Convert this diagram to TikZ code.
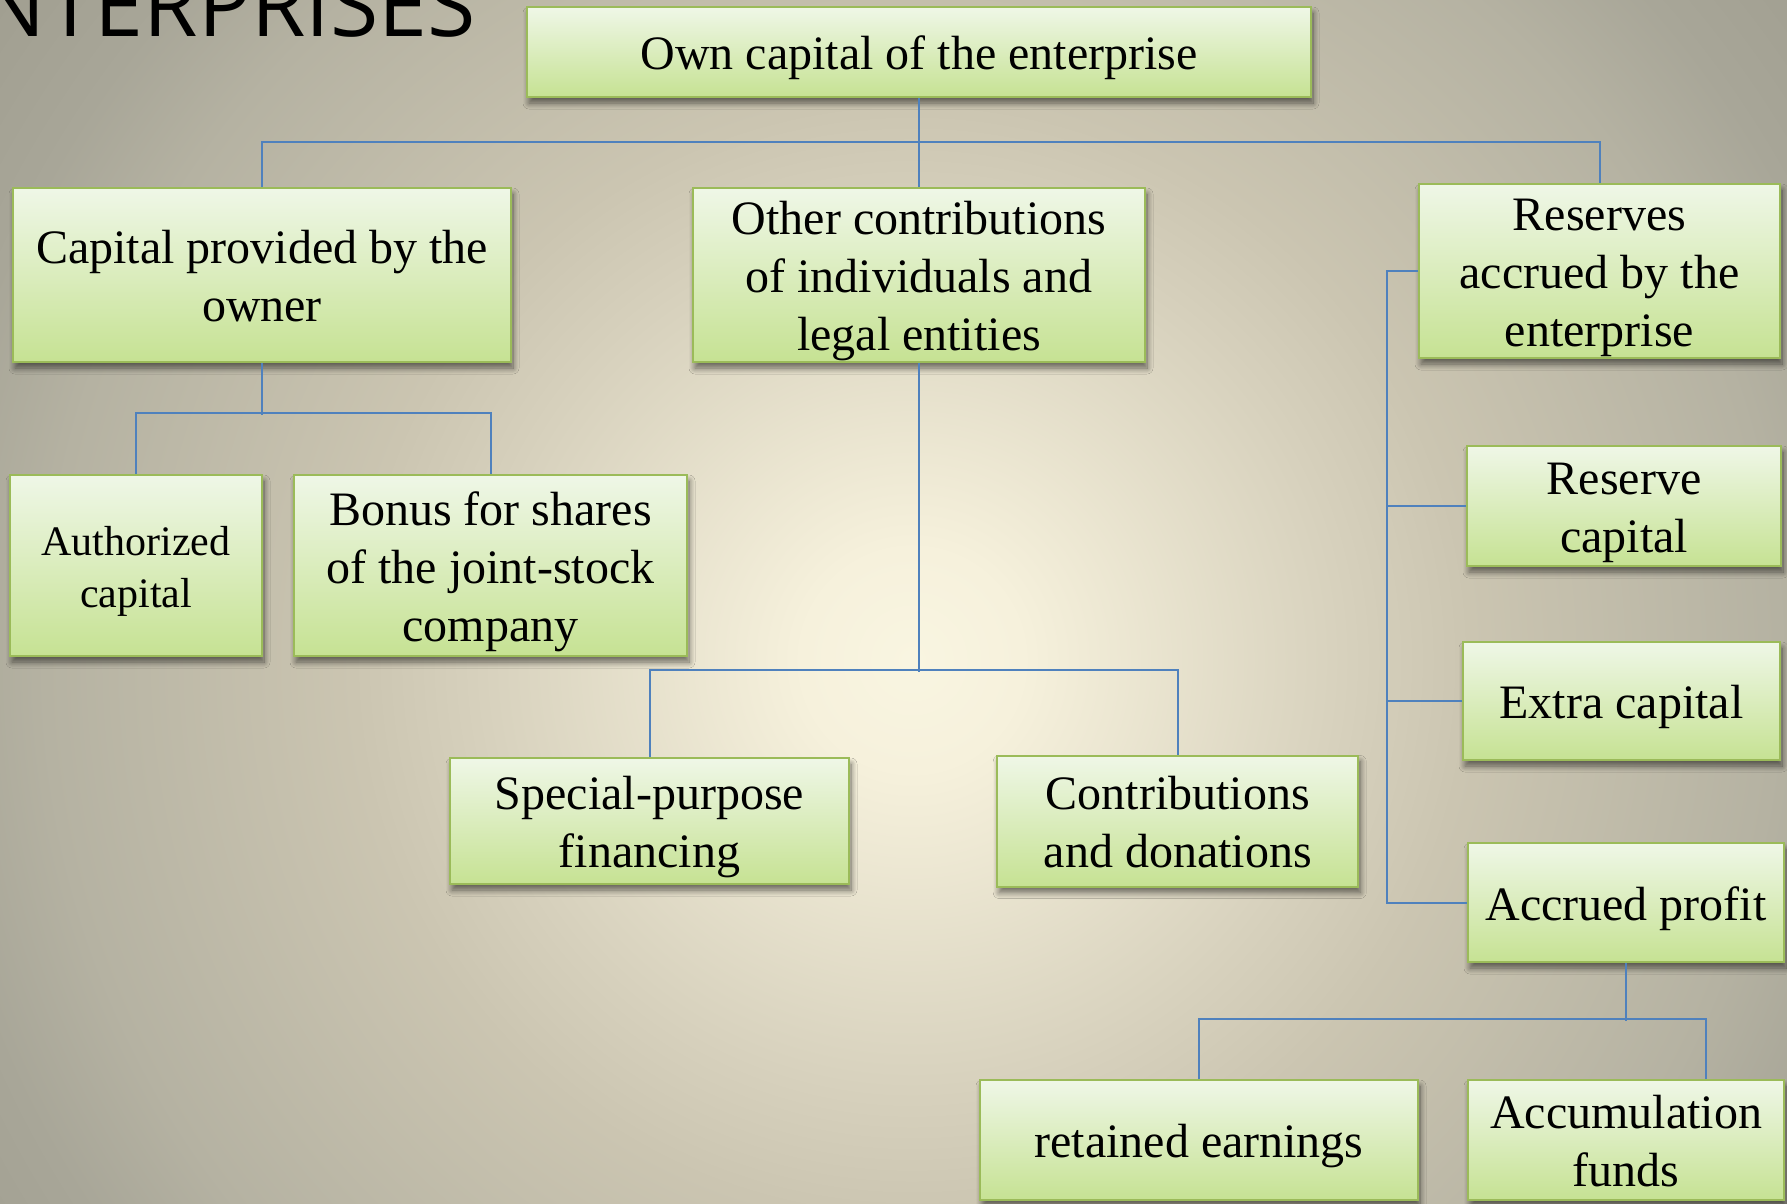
\documentclass[tikz,border=0pt]{standalone}
\usepackage{fontspec}
\setmainfont{Liberation Serif}
\newfontfamily\titlefont{Open Sans}
\usetikzlibrary{shadows,shadows.blur}
\definecolor{bgA}{HTML}{F9F5E1}
\definecolor{bgB}{HTML}{F6F1DC}
\definecolor{bgC}{HTML}{D6D0BC}
\definecolor{bgD}{HTML}{CBC5B1}
\definecolor{bgE}{HTML}{B5B2A2}
\definecolor{bgF}{HTML}{A8A698}
\definecolor{bgG}{HTML}{A09E90}
\definecolor{boxborder}{HTML}{9BBB59}
\definecolor{boxtop}{HTML}{EFF7E7}
\definecolor{boxbot}{HTML}{C6E293}
\definecolor{linecol}{HTML}{4F81BD}
\pgfdeclareradialshading{bgshade}{\pgfpointorigin}{color(0bp)=(bgA); color(2.5bp)=(bgB); color(10bp)=(bgC); color(12.7bp)=(bgD); color(19.7bp)=(bgE); color(22.5bp)=(bgF); color(26bp)=(bgG); color(50bp)=(bgG)}
\newcommand{\bt}[1]{\raisebox{-6pt}[\height][\depth]{\begin{tabular}{@{}c@{}}#1\end{tabular}}}
\begin{document}
\begin{tikzpicture}[x=1pt,y=-1pt,
  box/.style={draw=boxborder, line width=2pt, top color=boxtop, bottom color=boxbot,
    inner sep=0pt, font=\fontsize{48}{58}\selectfont,
    blur shadow={shadow xshift=2pt, shadow yshift=-6pt, shadow blur radius=6pt, shadow blur steps=10, shadow opacity=55}},
  conn/.style={draw=linecol, line width=2pt}]
\useasboundingbox (0,0) rectangle (1787,1203);
\begin{scope}
\clip (0,0) rectangle (1787,1203);
\shade[shading=bgshade] (-188,-440) rectangle (2012,1760);
\node[anchor=base east, inner sep=0pt, font=\titlefont\fontsize{88}{100}\selectfont] (title) at (476,36) {ENTERPRISES};

\node[box, minimum width=784, minimum height=90] (top) at (919,52) {\bt{Own capital of the enterprise}};
\node[box, minimum width=498, minimum height=174] (own) at (262,275) {\bt{Capital provided by the\\owner}};
\node[box, minimum width=452, minimum height=174] (other) at (919,275) {\bt{Other contributions\\of individuals and\\legal entities}};
\node[box, minimum width=361, minimum height=166] (res) at (1599.5,271) {\bt{Reserves\\accrued by the\\enterprise}};
\node[box, minimum width=252, minimum height=181, font=\fontsize{42}{52}\selectfont] (auth) at (136,565.5) {\bt{Authorized\\capital}};
\node[box, minimum width=393, minimum height=181] (bonus) at (490.5,565.5) {\bt{Bonus for shares\\of the joint-stock\\company}};
\node[box, minimum width=314, minimum height=120] (rescap) at (1624,506) {\bt{Reserve\\capital}};
\node[box, minimum width=317, minimum height=118] (extra) at (1621.5,701) {\bt{Extra capital}};
\node[box, minimum width=316, minimum height=119] (accr) at (1626,902.5) {\bt{Accrued profit}};
\node[box, minimum width=399, minimum height=126] (spec) at (649.5,821) {\bt{Special-purpose\\financing}};
\node[box, minimum width=361, minimum height=131] (contr) at (1177.7,821) {\bt{Contributions\\and donations}};
\node[box, minimum width=438, minimum height=120] (ret) at (1199,1140) {\bt{retained earnings}};
\node[box, minimum width=316, minimum height=120] (accum) at (1626,1140) {\bt{Accumulation\\funds}};

\coordinate (rbus) at (1387,0);
\draw[conn] (top.south) -- (other.north);
\draw[conn] (own.north) -- ++(0,-45.5) -| (res.north);
\draw[conn] (own.south) -- ++(0,51.5);
\draw[conn] (auth.north) -- ++(0,-61.3) -| (bonus.north);
\draw[conn] (other.south) -- ++(0,309);
\draw[conn] (spec.north) -- ++(0,-86.7) -| (contr.north);
\draw[conn] (res.west) -- (res.west -| rbus) |- (accr.west);
\draw[conn] (rescap.west) -- (rescap.west -| rbus);
\draw[conn] (extra.west) -- (extra.west -| rbus);
\draw[conn] (accr.south) -- ++(0,58);
\draw[conn] (ret.north) -- ++(0,-60) -| ([xshift=80pt]accum.north);
\end{scope}
\end{tikzpicture}
\end{document}
